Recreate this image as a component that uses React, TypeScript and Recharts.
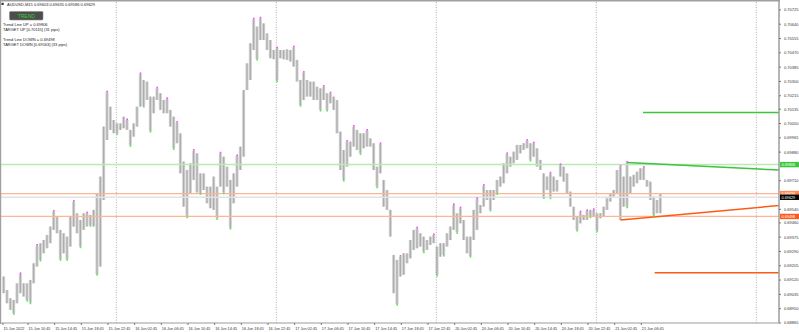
import React from 'react';
import { ComposedChart, Bar, Scatter, XAxis, YAxis, ReferenceLine } from 'recharts';

const FONT = '"Liberation Sans", Arial, sans-serif';

// AUDUSD M15, 15 Jun 07:00 -> 21 Jun 09:30; one entry = two M15 bars (high / low)
const HIGHS = [
  0.69141, 0.69061, 0.69012, 0.69002, 0.69101, 0.69156, 0.69101, 0.69101, 0.69121, 0.6922,
  0.69325, 0.69339, 0.69358, 0.69388, 0.69438, 0.69527, 0.69497, 0.69418, 0.69398, 0.69378,
  0.69497, 0.69586, 0.69517, 0.69477, 0.69517, 0.69517, 0.69507, 0.69537, 0.69636, 0.69735,
  0.70032, 0.70236, 0.7015, 0.70071, 0.70051, 0.70051, 0.70091, 0.70071, 0.70012, 0.70051,
  0.7015, 0.70344, 0.70309, 0.70299, 0.7021, 0.7021, 0.70259, 0.7023, 0.7019, 0.70196,
  0.70131, 0.70091, 0.70055, 0.69992, 0.69824, 0.69774, 0.69814, 0.69889, 0.69873, 0.69754,
  0.69754, 0.69675, 0.69675, 0.69735, 0.69675, 0.69873, 0.69853, 0.69794, 0.69715, 0.69754,
  0.69857, 0.69913, 0.70249, 0.70408, 0.70527, 0.70669, 0.70626, 0.70675, 0.70645, 0.70586,
  0.70546, 0.70487, 0.70497, 0.70487, 0.70487, 0.70491, 0.70487, 0.70503, 0.70428, 0.70309,
  0.70352, 0.70309, 0.70299, 0.70299, 0.70269, 0.70259, 0.70269, 0.7023, 0.7023, 0.7021,
  0.7019, 0.70002, 0.69893, 0.69943, 0.69943, 0.70032, 0.70012, 0.69992, 0.69992, 0.70008,
  0.69962, 0.69933, 0.69794, 0.69929, 0.69715, 0.69655, 0.69537, 0.69269, 0.6924, 0.69259,
  0.69279, 0.69279, 0.69358, 0.69418, 0.69428, 0.69398, 0.69378, 0.69358, 0.69378, 0.69388,
  0.69319, 0.69339, 0.69339, 0.69398, 0.69438, 0.69566, 0.69517, 0.69547, 0.69477, 0.69378,
  0.69378, 0.69537, 0.69602, 0.69566, 0.69681, 0.69655, 0.69655, 0.69655, 0.69715, 0.69735,
  0.69814, 0.69869, 0.69853, 0.69883, 0.69923, 0.69923, 0.69933, 0.69948, 0.69933, 0.69933,
  0.69903, 0.69834, 0.69754, 0.69735, 0.69754, 0.69735, 0.69715, 0.69804, 0.69794, 0.69754,
  0.69646, 0.69556, 0.69497, 0.69523, 0.69507, 0.69531, 0.69537, 0.69537, 0.69517, 0.69517,
  0.69556, 0.69606, 0.69636, 0.69655, 0.69774, 0.69794, 0.69735, 0.69818, 0.69735, 0.69745,
  0.69764, 0.69784, 0.69788, 0.69715, 0.69705, 0.69616, 0.69596, 0.69636,
];

const LOWS = [
  0.69042, 0.68982, 0.68943, 0.68923, 0.68982, 0.69042, 0.69022, 0.69002, 0.68986, 0.69101,
  0.692, 0.6924, 0.69279, 0.69309, 0.69339, 0.69418, 0.69398, 0.69244, 0.69279, 0.69244,
  0.69319, 0.69438, 0.69398, 0.69319, 0.69418, 0.69438, 0.69446, 0.69438, 0.69156, 0.692,
  0.69596, 0.69952, 0.70012, 0.69992, 0.69992, 0.70012, 0.70022, 0.70012, 0.69921, 0.69972,
  0.70032, 0.7015, 0.70154, 0.7019, 0.70006, 0.70111, 0.7019, 0.70131, 0.70111, 0.70111,
  0.70032, 0.69903, 0.69933, 0.69754, 0.69556, 0.69497, 0.69636, 0.69715, 0.6964, 0.69636,
  0.69655, 0.69576, 0.69547, 0.69537, 0.69487, 0.69675, 0.6964, 0.69675, 0.6943, 0.69576,
  0.69675, 0.69774, 0.69853, 0.70249, 0.70309, 0.70487, 0.70434, 0.70546, 0.70546, 0.70487,
  0.70438, 0.70432, 0.70305, 0.70438, 0.70432, 0.70428, 0.70418, 0.70388, 0.70299, 0.7016,
  0.7019, 0.7021, 0.7021, 0.7019, 0.7019, 0.70131, 0.7019, 0.70131, 0.7017, 0.70131,
  0.69992, 0.69774, 0.69715, 0.69794, 0.69853, 0.69913, 0.69893, 0.69873, 0.69903, 0.69913,
  0.69913, 0.69774, 0.69675, 0.69754, 0.69556, 0.69537, 0.69378, 0.69042, 0.68978, 0.69141,
  0.69151, 0.6922, 0.69249, 0.69299, 0.69309, 0.69319, 0.69289, 0.69299, 0.69329, 0.69339,
  0.69151, 0.69259, 0.69269, 0.69319, 0.69358, 0.69418, 0.69404, 0.69457, 0.69358, 0.69279,
  0.69263, 0.69358, 0.69418, 0.69517, 0.69556, 0.69596, 0.69537, 0.69596, 0.69636, 0.69675,
  0.69695, 0.69754, 0.69794, 0.69814, 0.69834, 0.69873, 0.69893, 0.69903, 0.69834, 0.69853,
  0.69794, 0.69774, 0.69612, 0.69655, 0.6961, 0.69646, 0.69646, 0.69735, 0.69705, 0.69636,
  0.69556, 0.69477, 0.69418, 0.69457, 0.69477, 0.69477, 0.69497, 0.69497, 0.69414, 0.69487,
  0.69497, 0.69537, 0.69586, 0.69616, 0.69636, 0.69477, 0.69556, 0.69556, 0.69636, 0.69675,
  0.69695, 0.69715, 0.69715, 0.69675, 0.69596, 0.69507, 0.69517, 0.69517,
];

const FRACTAL_UP = [5, 10, 15, 21, 25, 31, 37, 41, 46, 49, 52, 57, 65, 70, 75, 77, 82, 87, 90, 96, 98, 103, 105, 109, 113, 119, 124, 129, 135, 137, 142, 144, 151, 157, 159, 164, 167, 173, 175, 177, 185, 187, 192];
const FRACTAL_DOWN = [3, 7, 8, 11, 17, 19, 23, 26, 28, 34, 38, 42, 44, 51, 55, 59, 64, 66, 68, 76, 82, 89, 95, 97, 102, 107, 112, 118, 126, 130, 132, 136, 140, 146, 148, 158, 162, 164, 172, 176, 178, 187, 195];

// scale labels; the ones hidden under the price boxes are left out
const PRICE_TICKS = [
  0.70725, 0.7064, 0.70555, 0.7047, 0.70385, 0.703, 0.70215, 0.70135, 0.7005, 0.69965, 0.6988,
  0.6971, 0.6954, 0.6946, 0.69375, 0.6929, 0.69205, 0.6912, 0.69035, 0.6895, 0.68865,
];

// bar index of each time label (M15 bars from 15 Jun 07:00)
const TIME_TICKS = [0, 15, 31, 47, 63, 79, 95, 111, 127, 143, 159, 175, 191, 207, 223, 239, 255, 271, 287, 303, 319, 335, 351, 367, 383];
const TIME_LABELS = [
  '15 Jun 2022', '15 Jun 10:45', '15 Jun 14:45', '15 Jun 18:45', '15 Jun 22:45',
  '16 Jun 02:45', '16 Jun 06:45', '16 Jun 10:45', '16 Jun 14:45', '16 Jun 18:45', '16 Jun 22:45',
  '17 Jun 02:45', '17 Jun 06:45', '17 Jun 10:45', '17 Jun 14:45', '17 Jun 18:45', '17 Jun 22:45',
  '20 Jun 02:45', '20 Jun 06:45', '20 Jun 10:45', '20 Jun 14:45', '20 Jun 18:45', '20 Jun 22:45',
  '21 Jun 02:45', '21 Jun 06:45',
];
const DAY_STARTS = [68, 164, 260, 356, 452];

const X_DOMAIN = [-1.2, 465.6];
const Y_DOMAIN = [0.68865, 0.70778];

const LEVEL_UP = 0.69806;
const LEVEL_MID = 0.69634;
const LEVEL_DOWN = 0.69498;
const BID_LINE = 0.69612;
const LAST_CLOSE = '0.69629';
const TREND_UP = [{ x: 374.5, y: 0.69818 }, { x: 465.6, y: 0.69774 }];
const TREND_DOWN = [{ x: 370.5, y: 0.69477 }, { x: 465.6, y: 0.69563 }];
const TARGET_UP = [{ x: 384, y: 0.70115 }, { x: 465.6, y: 0.70115 }];
const TARGET_DOWN = [{ x: 391, y: 0.69163 }, { x: 465.6, y: 0.69163 }];

const bars = HIGHS.map((h, k) => ({ t: 2 * k + 0.5, range: [LOWS[k], h] }));
const upPts = FRACTAL_UP.map((k) => ({ t: 2 * k + 0.5, p: HIGHS[k] }));
const downPts = FRACTAL_DOWN.map((k) => ({ t: 2 * k + 0.5, p: LOWS[k] }));

const BarShape = (props: any) => {
  const { x, y, width, height } = props;
  const top = height < 0 ? y + height : y;
  const h = Math.max(Math.abs(height), 1);
  return (
    <g>
      <rect x={x} y={top} width={width} height={h} fill="#d0d0d0" />
      <line x1={x + width / 2} x2={x + width / 2} y1={top} y2={top + h} stroke="#8a8a8a" strokeWidth={0.6} />
    </g>
  );
};

const priceBox = (text: string, fill: string) => (props: any) => {
  const { viewBox } = props;
  const x = viewBox.x + viewBox.width + 1;
  const y = viewBox.y;
  return (
    <g>
      <rect x={x} y={y - 2.7} width={19} height={5.4} fill={fill} />
      <text x={x + 1.5} y={y + 1.4} fontSize={3.8} fill="#fff" fontFamily={FONT}>{text}</text>
    </g>
  );
};

const TimeTick = (props: any) => {
  const { x, y, payload } = props;
  const i = TIME_TICKS.indexOf(payload.value);
  return (
    <text x={x + 0.5} y={y + 3.3} fontSize={3.8} fill="#333" fontFamily={FONT}>
      {TIME_LABELS[i]}
    </text>
  );
};

const PriceTick = (props: any) => {
  const { x, y, payload } = props;
  return (
    <text x={x + 1} y={y + 1.4} fontSize={4} fill="#333" fontFamily={FONT}>
      {payload.value.toFixed(5)}
    </text>
  );
};

export default function App() {
  return (
    <div style={{ position: 'relative', width: 799, height: 332, background: '#fff' }}>
      <style>{'body{margin:0}'}</style>
      <ComposedChart width={799} height={332} data={bars} margin={{ top: 1, right: 0, bottom: 0, left: 1 }}>
        <XAxis
          dataKey="t"
          type="number"
          domain={X_DOMAIN}
          allowDataOverflow
          ticks={TIME_TICKS}
          interval={0}
          height={9}
          tickSize={2}
          tick={TimeTick}
          tickLine={{ stroke: '#777' }}
          axisLine={{ stroke: '#9c9c9c', strokeWidth: 1.2 }}
        />
        <YAxis
          orientation="right"
          type="number"
          domain={Y_DOMAIN}
          allowDataOverflow
          ticks={PRICE_TICKS}
          interval={0}
          width={20}
          tickSize={2}
          tick={PriceTick}
          tickLine={{ stroke: '#777' }}
          axisLine={{ stroke: '#9c9c9c', strokeWidth: 1.5 }}
        />
        {DAY_STARTS.map((d) => (
          <ReferenceLine key={d} x={d} stroke="#9a9a9a" strokeWidth={0.8} strokeDasharray="1 1.5" />
        ))}
        <ReferenceLine y={LEVEL_UP} stroke="#b6ebb2" strokeWidth={1.5} label={priceBox(LEVEL_UP.toFixed(5), '#3cc83c')} />
        <ReferenceLine y={LEVEL_MID} stroke="#ffb592" strokeWidth={1.3} label={priceBox(LEVEL_MID.toFixed(5), '#ff8a55')} />
        <ReferenceLine y={BID_LINE} stroke="#e2e2e2" strokeWidth={1.3} label={priceBox(LAST_CLOSE, '#000')} />
        <ReferenceLine y={LEVEL_DOWN} stroke="#ffb592" strokeWidth={1.3} label={priceBox(LEVEL_DOWN.toFixed(5), '#ff5a1e')} />
        <Bar dataKey="range" barSize={3.4} isAnimationActive={false} shape={BarShape} />
        <Scatter
          data={upPts}
          dataKey="p"
          isAnimationActive={false}
          shape={(p: any) => <rect x={p.cx - 0.8} y={p.cy - 1.6} width={1.6} height={1.6} fill="#ff44ff" />}
        />
        <Scatter
          data={downPts}
          dataKey="p"
          isAnimationActive={false}
          shape={(p: any) => <rect x={p.cx - 0.8} y={p.cy} width={1.6} height={1.6} fill="#44ee44" />}
        />
        <ReferenceLine segment={TREND_UP} stroke="#3cc43c" strokeWidth={1.5} />
        <ReferenceLine segment={TREND_DOWN} stroke="#ff5a14" strokeWidth={1.5} />
        <ReferenceLine segment={TARGET_UP} stroke="#3cc43c" strokeWidth={1.5} />
        <ReferenceLine segment={TARGET_DOWN} stroke="#ff5a14" strokeWidth={1.5} />
      </ComposedChart>
      <svg width={799} height={332} style={{ position: 'absolute', left: 0, top: 0, pointerEvents: 'none' }}>
        <line x1={0} x2={780} y1={0.8} y2={0.8} stroke="#a0a0a0" strokeWidth={1.6} />
        <line x1={0.6} x2={0.6} y1={0} y2={324} stroke="#a0a0a0" strokeWidth={1.2} />
        <rect x={1.5} y={2.8} width={2.2} height={2.2} fill="#333" />
        <text x={7} y={6.3} fontSize={4} fill="#222" fontFamily={FONT}>
          AUDUSD,M15  0.69603 0.69635 0.69586 0.69629
        </text>
        <rect x={9.5} y={11.5} width={33.5} height={8.5} rx={1} fill="#4d4d4d" stroke="#8a8a8a" strokeWidth={0.6} />
        <text x={26.3} y={17.6} fontSize={5} fill="#2ed42e" fontFamily={FONT} textAnchor="middle">TREND</text>
        <text x={3} y={25.8} fontSize={4} fill="#222" fontFamily={FONT}>Trend Line UP = 0.69806</text>
        <text x={3} y={31.4} fontSize={4} fill="#222" fontFamily={FONT}>TARGET UP [0.70115] (31 pips)</text>
        <text x={3} y={40.8} fontSize={4} fill="#222" fontFamily={FONT}>Trend Line DOWN = 0.69498</text>
        <text x={3} y={46} fontSize={4} fill="#222" fontFamily={FONT}>TARGET DOWN [0.69163] (33 pips)</text>
      </svg>
    </div>
  );
}
